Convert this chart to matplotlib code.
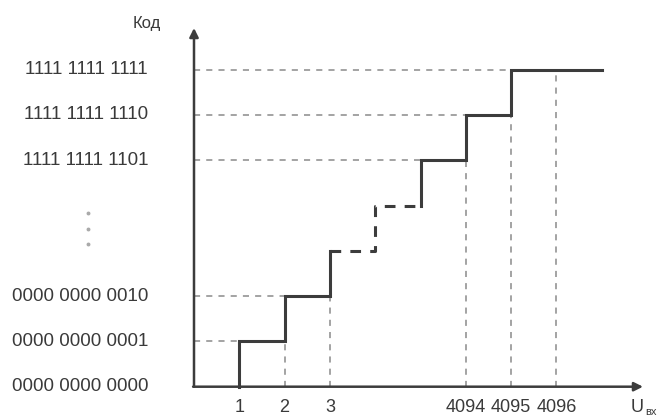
import matplotlib.pyplot as plt

plt.rcParams['font.family'] = ['Liberation Sans', 'DejaVu Sans']

# staircase of the 12-bit ADC transfer characteristic
step_x = [1, 2, 3, 4, 5, 6, 7]          # positions of the code transitions
levels = [0, 1, 2, 3, 4, 5, 6, 7]        # code level index
end_x = 9                                # where the last step stops

code_labels = ['0000 0000 0000', '0000 0000 0001', '0000 0000 0010',
               '1111 1111 1101', '1111 1111 1110', '1111 1111 1111']
code_levels = [0, 1, 2, 5, 6, 7]

tick_pos = [1, 2, 3, 6, 7, 8]
tick_labels = ['1', '2', '3', '4094', '4095', '4096']

# guide lines: horizontals from the axis to the step, verticals down to the axis
h_guides = [(1, 1), (2, 2), (5, 5), (6, 6), (7, 7)]   # (level, x_end)
v_guides = [(2, 1), (3, 2), (6, 5), (7, 6), (8, 7)]   # (x, top level)

DARK = '#3c3c3c'
GREY = '#8a8a8a'
TXT = '#3a3a3a'

fig = plt.figure(figsize=(6.64, 4.17), dpi=100)
ax = fig.add_axes([0, 0, 1, 1])
u = 45.3
ax.set_xlim(-194 / u, (664 - 194) / u)
ax.set_ylim(-(417 - 386.7) / u, 386.7 / u)
ax.axis('off')

# axes with arrows
ax.annotate('', xy=((643 - 194) / u, 0), xytext=(-0.02, 0),
            arrowprops=dict(arrowstyle='-|>', color=DARK, lw=1.8,
                            mutation_scale=13, shrinkA=0, shrinkB=0))
ax.annotate('', xy=(0, (386.7 - 28) / u), xytext=(0, 0),
            arrowprops=dict(arrowstyle='-|>', color=DARK, lw=1.8,
                            mutation_scale=13, shrinkA=0, shrinkB=0))

# guide lines
for lv, xe in h_guides:
    ax.plot([0, xe], [lv, lv], color=GREY, lw=1.1, ls=(0, (4, 4)), zorder=1)
for xv, top in v_guides:
    ax.plot([xv, xv], [0, top], color=GREY, lw=1.1, ls=(0, (4, 4)), zorder=1)

# solid part of the staircase: first three steps
sx_solid1 = [step_x[0], step_x[0], step_x[1], step_x[1], step_x[2], step_x[2]]
sy_solid1 = [levels[0], levels[1], levels[1], levels[2], levels[2], levels[3]]
ax.plot(sx_solid1, sy_solid1, color=DARK, lw=2.2, solid_joinstyle='miter', zorder=3)

# dashed middle part (skipped codes)
sx_dash = [step_x[2], step_x[3], step_x[3], step_x[4]]
sy_dash = [levels[3], levels[3], levels[4], levels[4]]
ax.plot(sx_dash, sy_dash, color=DARK, lw=2.2, ls=(0, (3.5, 3)), zorder=3)

# solid upper part
sx_solid2 = [step_x[4], step_x[4], step_x[5], step_x[5], step_x[6], step_x[6], end_x]
sy_solid2 = [levels[4], levels[5], levels[5], levels[6], levels[6], levels[7], levels[7]]
ax.plot(sx_solid2, sy_solid2, color=DARK, lw=2.2, solid_joinstyle='miter', zorder=3)

# code labels on the left
for lbl, lv in zip(code_labels, code_levels):
    ax.text((148 - 194) / u, lv, lbl, ha='right', va='center',
            fontsize=13.5, color=TXT)

# vertical ellipsis between the low and high codes
ax.plot([(88 - 194) / u] * 3, [3.83, 3.48, 3.15], ls='none', marker='o',
        ms=1.8, color='#aaaaaa')

ax.text((147 - 194) / u, 8.02, 'Код', ha='center', va='center',
        fontsize=12, color=TXT)

for xp, lbl in zip(tick_pos, tick_labels):
    ax.text(xp, -0.47, lbl, ha='center', va='center', fontsize=13, color=TXT)

ax.text((631 - 194) / u, -0.47, 'U', ha='left', va='center', fontsize=13, color=TXT)
ax.text((645 - 194) / u, -0.55, 'вх', ha='left', va='center', fontsize=8, color=TXT)

fig.savefig('out.png', dpi=100)
